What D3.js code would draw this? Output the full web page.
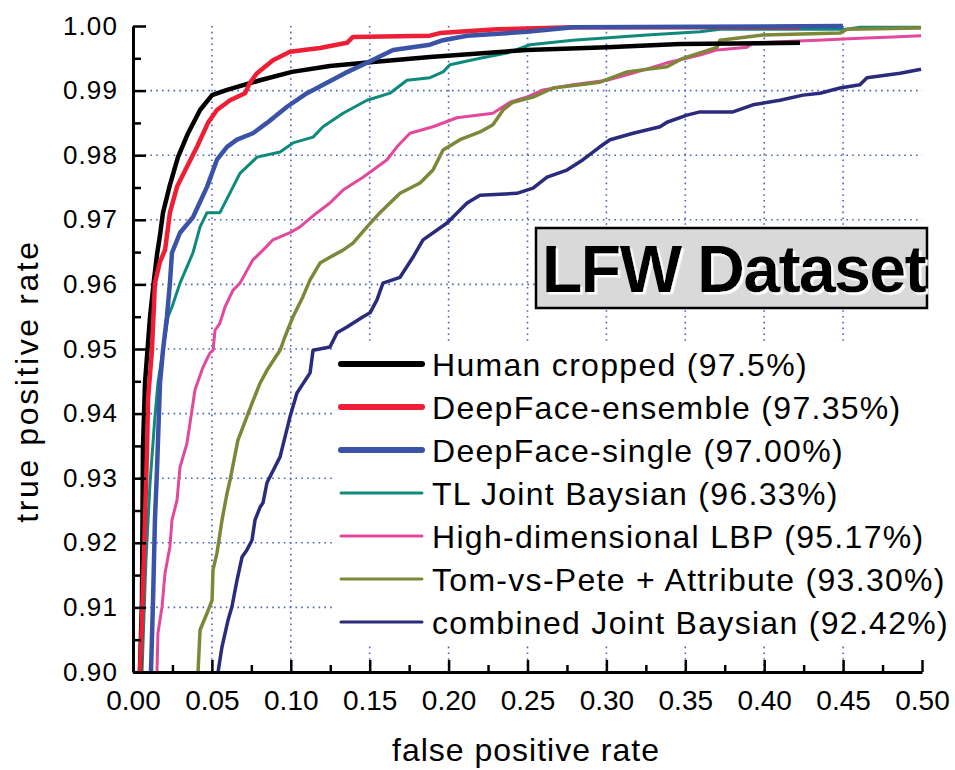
<!DOCTYPE html>
<html><head><meta charset="utf-8">
<script src="https://cdn.jsdelivr.net/npm/d3@7/dist/d3.min.js"></script>
<style>
body{margin:0;background:#fff}
svg{display:block;font-family:"Liberation Sans",Arial,Helvetica,sans-serif}
</style>
</head><body>
<svg id="chart" width="955" height="770"></svg>
<script>
// ---------- data ----------
const xTickValues = [0, 0.05, 0.10, 0.15, 0.20, 0.25, 0.30, 0.35, 0.40, 0.45, 0.50];
const yTickValues = [0.90, 0.91, 0.92, 0.93, 0.94, 0.95, 0.96, 0.97, 0.98, 0.99, 1.00];
const xMinorTicks = [0.025, 0.075, 0.125, 0.175, 0.225, 0.275, 0.325, 0.375, 0.425, 0.475];
const yMinorTicks = [0.905, 0.915, 0.925, 0.935, 0.945, 0.955, 0.965, 0.975, 0.985, 0.995];

const seriesLabels = [
  "Human cropped (97.5%)",
  "DeepFace-ensemble (97.35%)",
  "DeepFace-single (97.00%)",
  "TL Joint Baysian (96.33%)",
  "High-dimensional LBP (95.17%)",
  "Tom-vs-Pete + Attribute (93.30%)",
  "combined Joint Baysian (92.42%)"
];
const seriesColors = ["#000000", "#ee1f35", "#3b53a6", "#0e8a7c", "#e2489c", "#7e8738", "#2a2b7c"];

const humanCropped = [[0.0044,0.9000],[0.0057,0.9111],[0.0063,0.9344],[0.0076,0.9447],[0.0108,0.9550],[0.0133,0.9607],[0.0152,0.9646],[0.0171,0.9676],[0.0190,0.9711],[0.0234,0.9754],[0.0285,0.9797],[0.0349,0.9834],[0.0425,0.9870],[0.0501,0.9893],[0.0596,0.9901],[0.0805,0.9916],[0.1008,0.9929],[0.1248,0.9938],[0.1502,0.9944],[0.1882,0.9952],[0.2497,0.9963],[0.3004,0.9967],[0.3466,0.9972],[0.4227,0.9974]];
const deepFaceEnsemble = [[0.0044,0.9000],[0.0057,0.9080],[0.0076,0.9235],[0.0089,0.9344],[0.0095,0.9421],[0.0120,0.9498],[0.0139,0.9602],[0.0171,0.9635],[0.0203,0.9653],[0.0234,0.9711],[0.0279,0.9751],[0.0342,0.9782],[0.0406,0.9813],[0.0475,0.9850],[0.0532,0.9870],[0.0615,0.9885],[0.0710,0.9896],[0.0741,0.9912],[0.0786,0.9927],[0.0887,0.9947],[0.0995,0.9960],[0.1185,0.9966],[0.1356,0.9974],[0.1394,0.9983],[0.1882,0.9985],[0.1945,0.9989],[0.2307,0.9995],[0.2788,0.9998],[0.4227,0.9998]];
const deepFaceSingle = [[0.0114,0.9000],[0.0127,0.9111],[0.0139,0.9235],[0.0152,0.9313],[0.0171,0.9447],[0.0190,0.9498],[0.0215,0.9550],[0.0234,0.9602],[0.0247,0.9649],[0.0298,0.9680],[0.0380,0.9704],[0.0469,0.9751],[0.0532,0.9793],[0.0596,0.9813],[0.0659,0.9824],[0.0760,0.9834],[0.0849,0.9850],[0.0976,0.9875],[0.1103,0.9896],[0.1229,0.9912],[0.1343,0.9927],[0.1483,0.9943],[0.1648,0.9963],[0.1882,0.9971],[0.1965,0.9978],[0.2117,0.9985],[0.2497,0.9991],[0.2788,0.9998],[0.4499,1.0000]];
const tlJointBaysian = [[0.0057,0.9000],[0.0082,0.9173],[0.0108,0.9293],[0.0139,0.9395],[0.0158,0.9447],[0.0190,0.9498],[0.0222,0.9550],[0.0247,0.9565],[0.0298,0.9602],[0.0342,0.9627],[0.0380,0.9649],[0.0425,0.9689],[0.0469,0.9711],[0.0551,0.9711],[0.0634,0.9751],[0.0678,0.9772],[0.0786,0.9797],[0.0932,0.9805],[0.1014,0.9819],[0.1141,0.9828],[0.1204,0.9844],[0.1331,0.9865],[0.1483,0.9885],[0.1629,0.9896],[0.1736,0.9916],[0.1882,0.9920],[0.1965,0.9929],[0.2009,0.9940],[0.2199,0.9950],[0.2370,0.9958],[0.2516,0.9971],[0.2788,0.9978],[0.3257,0.9986],[0.3593,0.9991],[0.3720,0.9995],[0.4525,0.9995],[0.4607,0.9998],[0.4994,0.9998]];
const highDimLBP = [[0.0152,0.9000],[0.0158,0.9060],[0.0184,0.9101],[0.0203,0.9153],[0.0234,0.9194],[0.0247,0.9235],[0.0279,0.9266],[0.0298,0.9317],[0.0342,0.9354],[0.0374,0.9406],[0.0393,0.9437],[0.0444,0.9472],[0.0488,0.9494],[0.0507,0.9498],[0.0520,0.9529],[0.0551,0.9540],[0.0583,0.9565],[0.0634,0.9591],[0.0678,0.9602],[0.0760,0.9638],[0.0824,0.9653],[0.0887,0.9669],[0.0995,0.9680],[0.1058,0.9689],[0.1166,0.9711],[0.1248,0.9726],[0.1331,0.9746],[0.1458,0.9766],[0.1521,0.9777],[0.1610,0.9793],[0.1673,0.9813],[0.1755,0.9834],[0.1901,0.9844],[0.2053,0.9858],[0.2281,0.9865],[0.2389,0.9882],[0.2497,0.9890],[0.2598,0.9901],[0.2788,0.9909],[0.3004,0.9916],[0.3169,0.9927],[0.3384,0.9943],[0.3593,0.9955],[0.3701,0.9963],[0.3891,0.9967],[0.3929,0.9974],[0.4335,0.9978],[0.4607,0.9981],[0.4816,0.9983],[0.4994,0.9985]];
const tomVsPete = [[0.0412,0.9000],[0.0425,0.9065],[0.0469,0.9091],[0.0501,0.9111],[0.0507,0.9158],[0.0532,0.9184],[0.0564,0.9235],[0.0596,0.9277],[0.0615,0.9297],[0.0665,0.9359],[0.0754,0.9416],[0.0805,0.9447],[0.0849,0.9467],[0.0932,0.9498],[0.0963,0.9519],[0.1014,0.9550],[0.1077,0.9581],[0.1122,0.9607],[0.1185,0.9633],[0.1248,0.9642],[0.1331,0.9653],[0.1394,0.9664],[0.1483,0.9689],[0.1565,0.9711],[0.1692,0.9741],[0.1819,0.9757],[0.1901,0.9777],[0.1965,0.9808],[0.2072,0.9824],[0.2199,0.9836],[0.2281,0.9847],[0.2345,0.9870],[0.2408,0.9882],[0.2535,0.9890],[0.2662,0.9904],[0.2959,0.9913],[0.3131,0.9929],[0.3384,0.9937],[0.3485,0.9950],[0.3701,0.9967],[0.3720,0.9978],[0.3992,0.9986],[0.4480,0.9989],[0.4525,0.9995],[0.4994,0.9997]];
const combinedJointBaysian = [[0.0539,0.9000],[0.0564,0.9039],[0.0602,0.9080],[0.0627,0.9101],[0.0659,0.9142],[0.0691,0.9178],[0.0722,0.9189],[0.0754,0.9204],[0.0773,0.9235],[0.0805,0.9255],[0.0824,0.9262],[0.0849,0.9293],[0.0932,0.9333],[0.0995,0.9395],[0.1039,0.9432],[0.1122,0.9463],[0.1141,0.9498],[0.1248,0.9503],[0.1293,0.9525],[0.1356,0.9534],[0.1458,0.9550],[0.1502,0.9556],[0.1546,0.9576],[0.1584,0.9602],[0.1692,0.9611],[0.1774,0.9642],[0.1838,0.9669],[0.1990,0.9695],[0.2117,0.9726],[0.2199,0.9738],[0.2433,0.9741],[0.2535,0.9749],[0.2624,0.9766],[0.2750,0.9777],[0.2852,0.9793],[0.2959,0.9813],[0.3023,0.9824],[0.3169,0.9834],[0.3340,0.9844],[0.3384,0.9851],[0.3511,0.9862],[0.3593,0.9867],[0.3802,0.9867],[0.3929,0.9878],[0.4100,0.9885],[0.4246,0.9893],[0.4354,0.9896],[0.4480,0.9904],[0.4607,0.9909],[0.4651,0.9920],[0.4861,0.9927],[0.4994,0.9933]];

const seriesData = [humanCropped, deepFaceEnsemble, deepFaceSingle, tlJointBaysian, highDimLBP, tomVsPete, combinedJointBaysian];
const xTitle = "false positive rate";
const yTitle = "true positive rate";
const boxTitle = "LFW Dataset";

// ---------- styles ----------
const curveWidths = [4.5, 4.5, 4.5, 3, 3, 3.5, 3.5];
const legendWidths = [6, 6, 6, 3, 3, 3, 3];
const drawOrder = [6, 4, 3, 5, 0, 1, 2];

// ---------- chart ----------
const svg = d3.select("#chart");
const x = d3.scaleLinear().domain([0, 0.5]).range([133, 922]);
const y = d3.scaleLinear().domain([0.9, 1.0]).range([672, 26]);

const defs = svg.append("defs");
const shadow = defs.append("filter").attr("id", "whiteShadow")
  .attr("x", "-5%").attr("y", "-10%").attr("width", "115%").attr("height", "130%");
shadow.append("feDropShadow").attr("dx", 2.5).attr("dy", 2.5).attr("stdDeviation", 0.4)
  .attr("flood-color", "#ffffff").attr("flood-opacity", 1);

svg.append("rect").attr("width", 955).attr("height", 770).attr("fill", "#fff");

// grid
const grid = svg.append("g").attr("stroke", "#4d60c4").attr("stroke-width", 1.6).attr("stroke-dasharray", "1.6,4.2");
grid.selectAll(".gx").data(xTickValues.filter(v => v > 0 && v < 0.5)).join("line")
  .attr("x1", d => x(d)).attr("x2", d => x(d)).attr("y1", y(1.0)).attr("y2", y(0.9));
grid.selectAll(".gy").data(yTickValues.filter(v => v > 0.9 && v < 1.0)).join("line")
  .attr("y1", d => y(d)).attr("y2", d => y(d)).attr("x1", x(0)).attr("x2", x(0.5));

// legend background (covers grid)
svg.append("rect").attr("x", 333).attr("y", 342).attr("width", 592).attr("height", 301).attr("fill", "#fff");

// LFW box
const bx = svg.append("g");
bx.append("rect").attr("x", 536).attr("y", 228).attr("width", 391).attr("height", 80)
  .attr("fill", "#d9d9d9").attr("stroke", "#000").attr("stroke-width", 2.5);
bx.append("text").attr("x", 542).attr("y", 292).text(boxTitle)
  .attr("font-size", 66).attr("font-weight", "bold").attr("letter-spacing", -1.5).attr("fill", "#000")
  .attr("filter", "url(#whiteShadow)");

// curves
svg.append("clipPath").attr("id", "clip").append("rect")
  .attr("x", x(0)).attr("y", y(1.0) - 4).attr("width", x(0.5) - x(0) + 2).attr("height", y(0.9) - y(1.0) + 4);
const line = d3.line().x(d => x(d[0])).y(d => y(d[1]));
const curves = svg.append("g").attr("clip-path", "url(#clip)");
drawOrder.forEach(i => {
  curves.append("path").datum(seriesData[i]).attr("d", line)
    .attr("fill", "none").attr("stroke", seriesColors[i]).attr("stroke-width", curveWidths[i])
    .attr("stroke-linejoin", "round").attr("stroke-linecap", "butt");
});

// axes
const xAxis = svg.append("g").attr("transform", `translate(0,${y(0.9)})`)
  .call(d3.axisBottom(x).tickValues(xTickValues).tickSizeInner(-12).tickSizeOuter(0).tickFormat(d3.format(".2f")));
xAxis.select(".domain").attr("stroke-width", 3);
xAxis.selectAll(".tick line").attr("stroke-width", 2.5);
xAxis.selectAll(".tick text").attr("y", 38).attr("dy", 0).attr("font-size", 28).attr("fill", "#000").attr("font-family", null);
svg.append("g").attr("transform", `translate(0,${y(0.9)})`)
  .call(d3.axisBottom(x).tickValues(xMinorTicks).tickSizeInner(-7).tickSizeOuter(0).tickFormat(""))
  .call(g => g.select(".domain").remove())
  .selectAll(".tick line").attr("stroke-width", 2.5);

const yAxis = svg.append("g").attr("transform", `translate(${x(0)},0)`)
  .call(d3.axisLeft(y).tickValues(yTickValues).tickSizeInner(-13).tickSizeOuter(0).tickFormat(d3.format(".2f")));
yAxis.select(".domain").attr("stroke-width", 3);
yAxis.selectAll(".tick line").attr("stroke-width", 2.5);
yAxis.selectAll(".tick text").attr("x", -15).attr("dy", 8).attr("font-size", 26).attr("letter-spacing", 1.1).attr("fill", "#000").attr("font-family", null);
svg.append("g").attr("transform", `translate(${x(0)},0)`)
  .call(d3.axisLeft(y).tickValues(yMinorTicks).tickSizeInner(-8).tickSizeOuter(0).tickFormat(""))
  .call(g => g.select(".domain").remove())
  .selectAll(".tick line").attr("stroke-width", 2.5);

// axis titles
svg.append("text").attr("x", 526).attr("y", 761).attr("text-anchor", "middle")
  .attr("font-size", 32).attr("letter-spacing", 1.0).text(xTitle);
svg.append("text").attr("transform", "translate(38,381) rotate(-90)").attr("text-anchor", "middle")
  .attr("font-size", 32).attr("letter-spacing", 2.6).text(yTitle);

// legend
const legend = svg.append("g");
seriesLabels.forEach((lab, i) => {
  const ry = 364 + i * 43;
  legend.append("line").attr("x1", 341).attr("x2", 422).attr("y1", ry).attr("y2", ry)
    .attr("stroke", seriesColors[i]).attr("stroke-width", legendWidths[i]).attr("stroke-linecap", "round");
  legend.append("text").attr("x", 432).attr("y", ry + 12).attr("font-size", 32)
    .attr("letter-spacing", 1.3).attr("fill", "#000").text(lab);
});
</script>
</body></html>
